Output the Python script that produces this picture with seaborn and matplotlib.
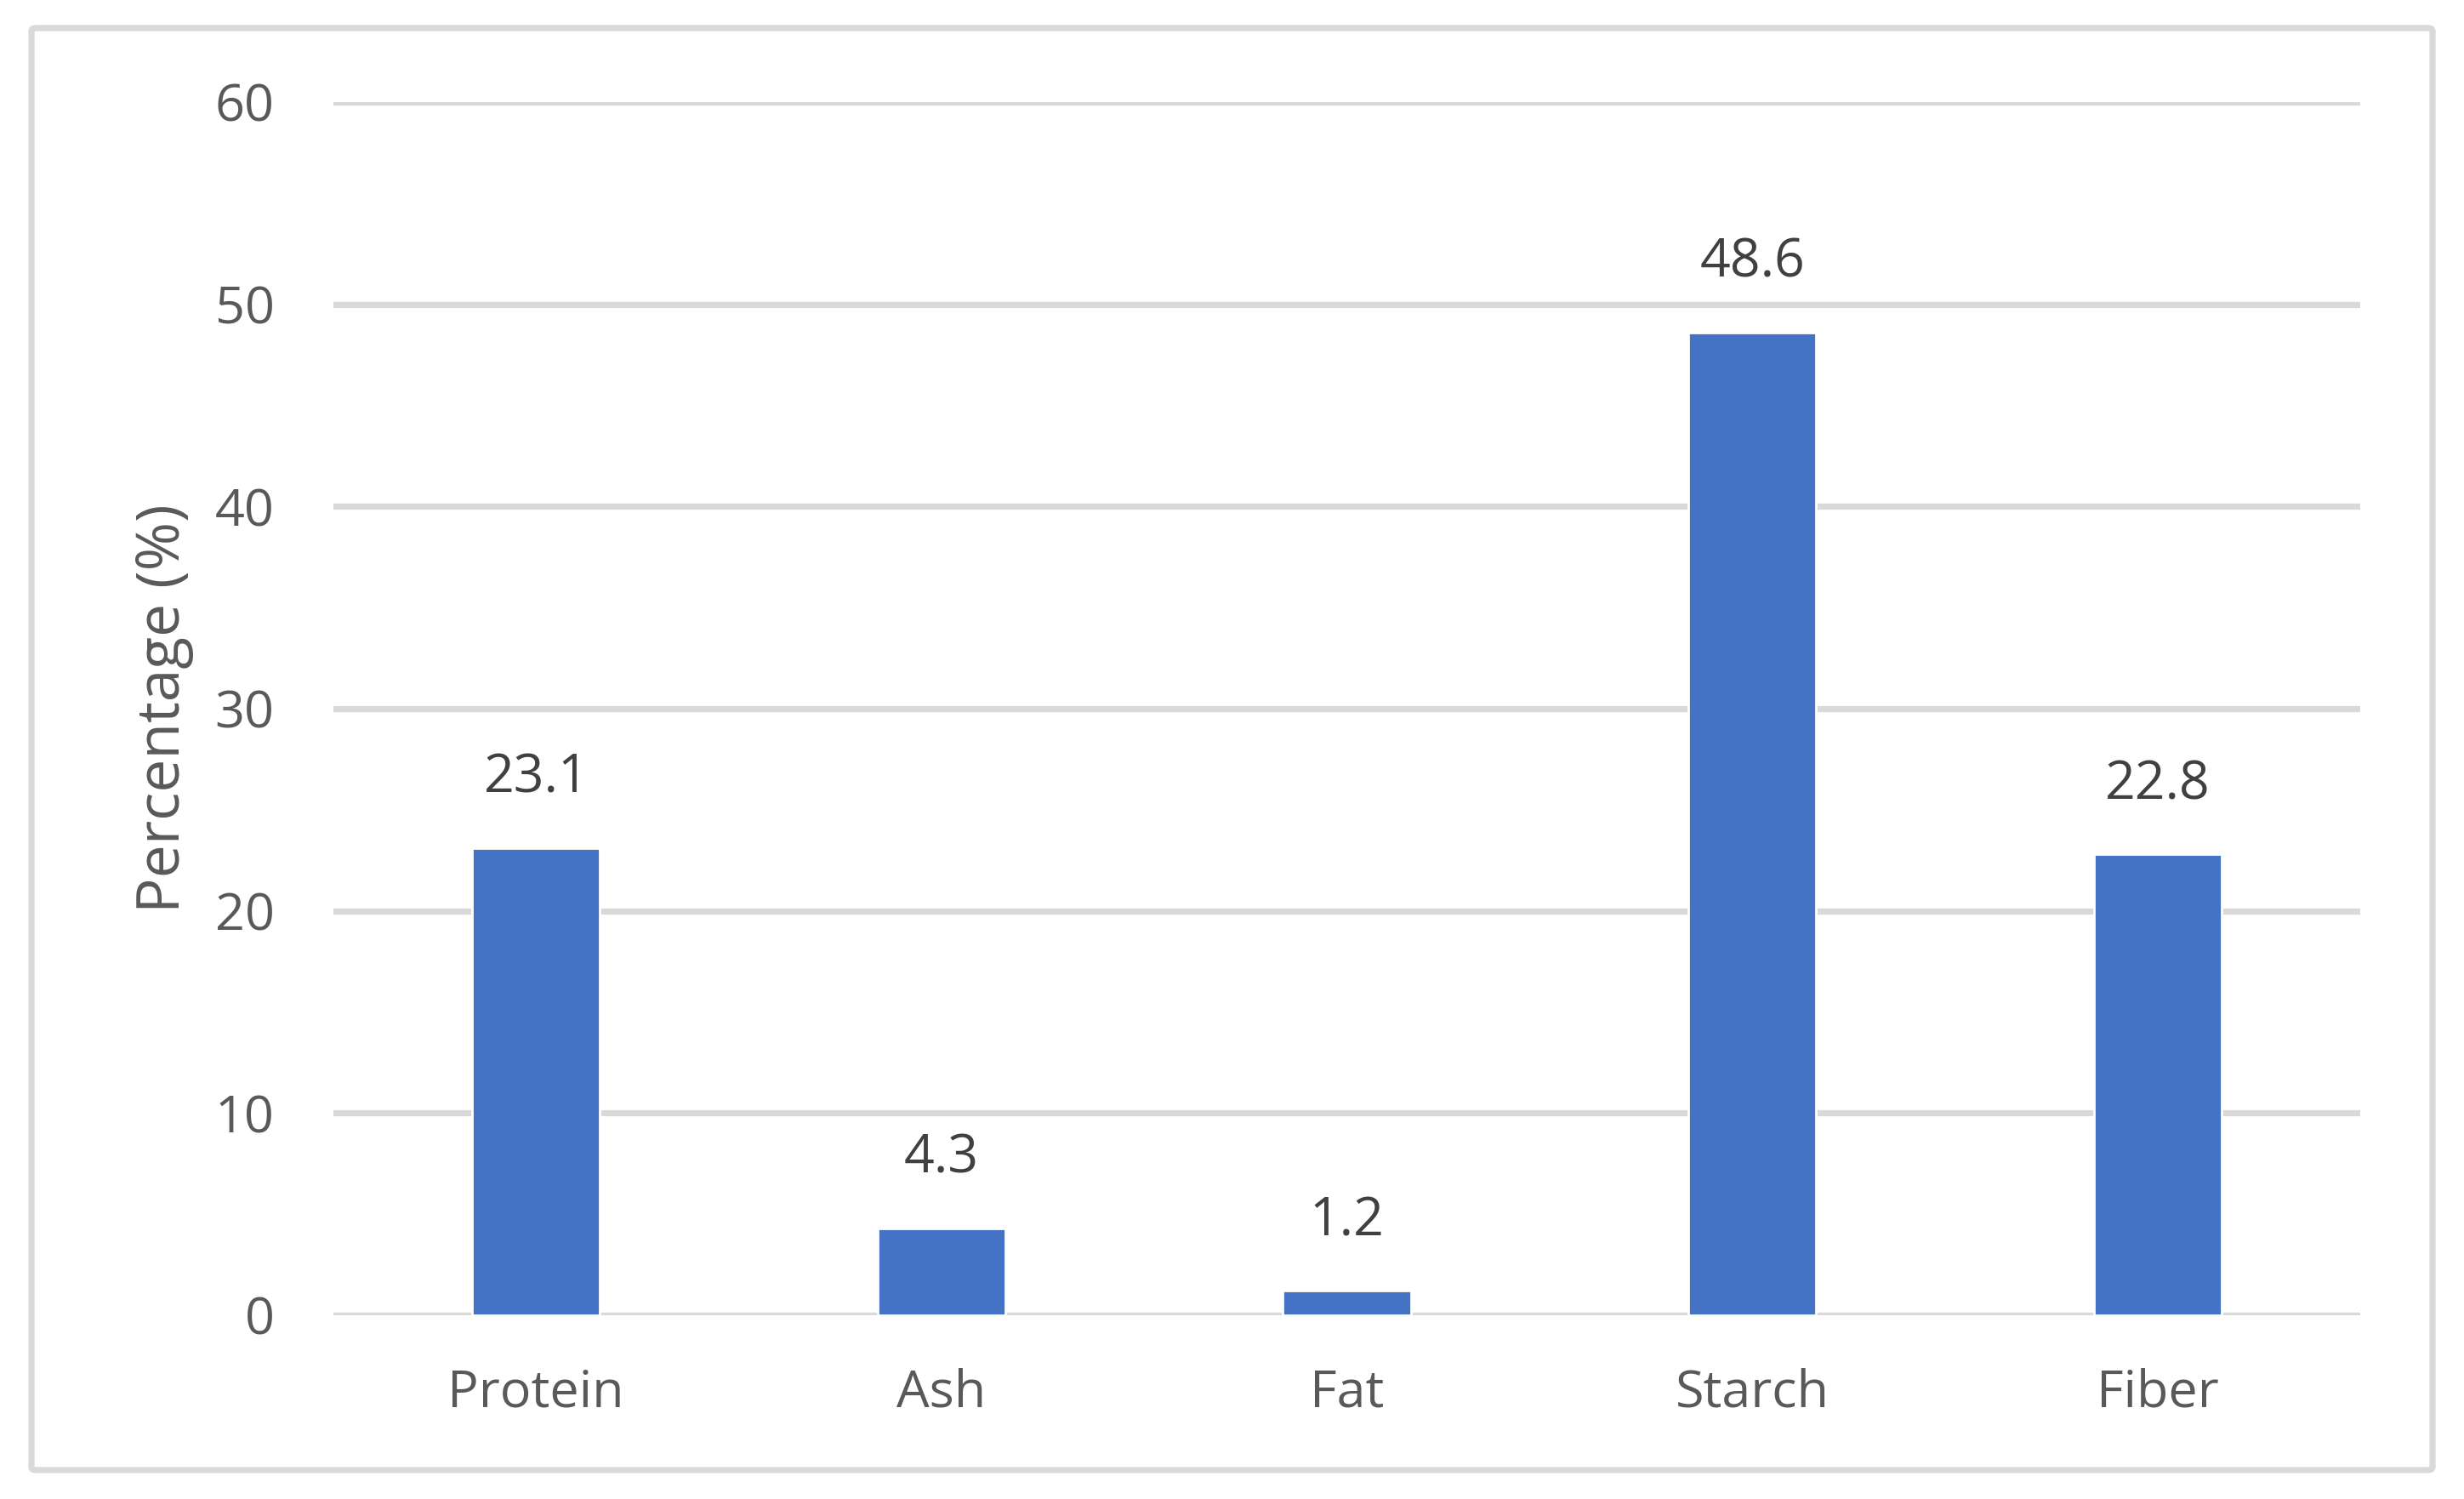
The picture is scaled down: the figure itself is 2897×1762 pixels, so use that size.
import matplotlib
matplotlib.use("Agg")
import matplotlib.pyplot as plt
import pandas as pd
import seaborn as sns
from matplotlib.patches import FancyBboxPatch

# composition data
components = ["Protein", "Ash", "Fat", "Starch", "Fiber"]
percentages = [23.1, 4.3, 1.2, 48.6, 22.8]
y_ticks = [0, 10, 20, 30, 40, 50, 60]

df = pd.DataFrame({"Component": components, "Percentage": percentages})

sns.set_theme(style="white")
plt.rcParams["font.family"] = ["Open Sans", "DejaVu Sans"]

fig = plt.figure(figsize=(14.485, 8.81), dpi=200)
ax = fig.add_axes([0.1353, 0.1226, 0.8226, 0.8093])

sns.barplot(data=df, x="Component", y="Percentage", color="#4472C4",
            width=0.315, saturation=1, ax=ax, zorder=3)

ax.set_ylim(0, 60)
ax.set_yticks(y_ticks)
ax.yaxis.grid(True, color="#D9D9D9", linewidth=2.6, zorder=0)
ax.xaxis.grid(False)
for s in ax.spines.values():
    s.set_visible(False)
ax.tick_params(axis="both", length=0, labelsize=22, labelcolor="#595959")
ax.tick_params(axis="y", pad=25)
ax.tick_params(axis="x", pad=22)
ax.set_xlabel("")
ax.set_ylabel("Percentage (%)", fontsize=25, color="#595959", labelpad=9)

for c in ax.containers:
    ax.bar_label(c, fmt="%.1f", padding=18, fontsize=22.5, color="#404040")

# outer chart frame
frame = FancyBboxPatch((37 / 2897, 1 - 1728 / 1762), (2860 - 37) / 2897,
                       (1728 - 33) / 1762, boxstyle="round,pad=0,rounding_size=0.002",
                       transform=fig.transFigure, fill=False,
                       edgecolor="#D9D9D9", linewidth=2.6)
fig.patches.append(frame)

fig.savefig("out.png", dpi=200, facecolor="white")
